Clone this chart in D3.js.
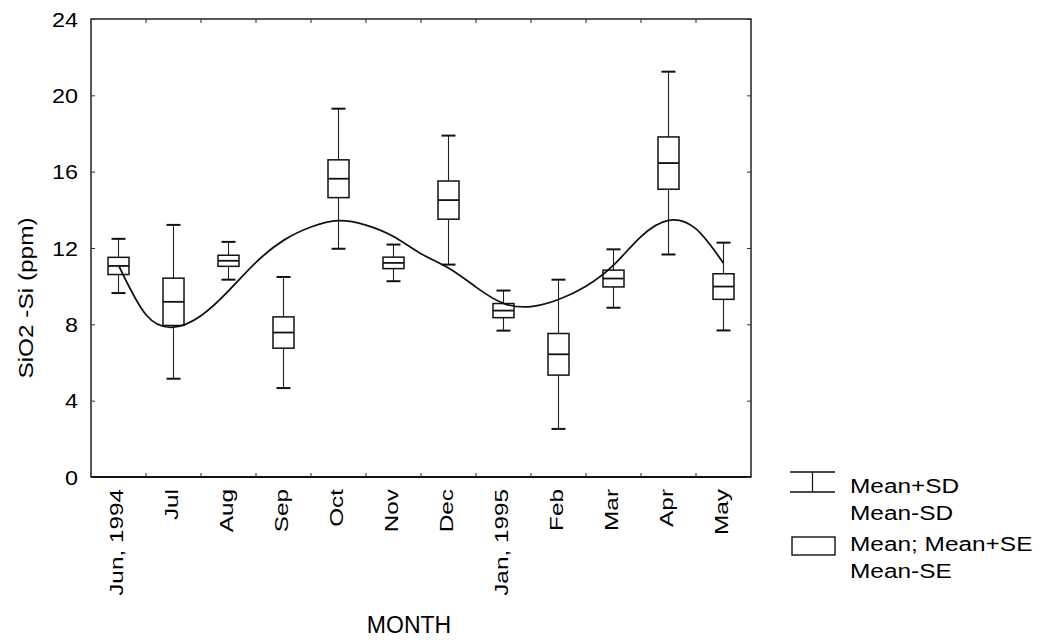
<!DOCTYPE html>
<html>
<head>
<meta charset="utf-8">
<script src="https://cdn.jsdelivr.net/npm/d3@7"></script>
<style>
  html, body { margin: 0; padding: 0; background: #fff; }
  svg { display: block; }
  text { font-family: "Liberation Sans", Arial, Helvetica, sans-serif; fill: #000; }
</style>
</head>
<body>
<svg id="chart" width="1047" height="641"></svg>
<script>
// Monthly SiO2-Si concentration, June 1994 - May 1995
const months = ["Jun, 1994", "Jul", "Aug", "Sep", "Oct", "Nov", "Dec",
                "Jan, 1995", "Feb", "Mar", "Apr", "May"];
const meanValues = [11.06, 9.18, 11.33, 7.57, 15.63, 11.22, 14.51, 8.72, 6.43, 10.40, 16.45, 9.98];
const seValues   = [0.45, 1.24, 0.29, 0.82, 0.99, 0.30, 1.00, 0.37, 1.09, 0.44, 1.37, 0.67];
const sdValues   = [1.42, 4.03, 0.99, 2.91, 3.67, 0.96, 3.38, 1.05, 3.91, 1.53, 4.79, 2.30];

// Smoothed seasonal fit, sampled every half month (index 0 = Jun 1994)
const fitIndex  = [0, 0.5, 1, 1.5, 2, 2.5, 3, 3.5, 4, 4.5, 5, 5.5,
                   6, 6.5, 7, 7.5, 8, 8.5, 9, 9.5, 10, 10.5, 11];
const fitValues = [11.1, 8.5, 7.85, 8.45, 9.75, 11.25, 12.4, 13.1, 13.43, 13.2, 12.6, 11.7,
                   10.95, 9.95, 9.1, 8.93, 9.3, 10.0, 11.1, 12.6, 13.45, 13.0, 11.2];

const yTicks = [0, 4, 8, 12, 16, 20, 24];
const legendItems = [["Mean+SD", "Mean-SD"], ["Mean; Mean+SE", "Mean-SE"]];

const svg = d3.select("#chart");
const W = 1047, H = 641;
const plot = { left: 91, right: 751, top: 19, bottom: 477 };

svg.append("rect").attr("width", W).attr("height", H).attr("fill", "#fff");

const x = d3.scaleBand().domain(months).range([plot.left, plot.right]).padding(0);
const y = d3.scaleLinear().domain([0, 24]).range([plot.bottom, plot.top]);
const cx = m => x(m) + x.bandwidth() / 2;
const xFit = d3.scaleLinear().domain([0, months.length - 1])
  .range([cx(months[0]), cx(months[months.length - 1])]);

// stretch text along its baseline (the lettering is wide)
function widen(sel, k) {
  sel.each(function () {
    const L = this.getComputedTextLength();
    this.setAttribute("textLength", (L * k).toFixed(1));
    this.setAttribute("lengthAdjust", "spacingAndGlyphs");
  });
}

const rows = months.map((m, i) => ({
  m, mean: meanValues[i], se: seValues[i], sd: sdValues[i]
}));

// whiskers: mean ± SD
const capW = 14, boxW = 21;
const g = svg.append("g");
g.selectAll("line.whisker").data(rows).join("line")
  .attr("class", "whisker")
  .attr("x1", d => cx(d.m)).attr("x2", d => cx(d.m))
  .attr("y1", d => y(d.mean + d.sd)).attr("y2", d => y(d.mean - d.sd))
  .attr("stroke", "#222").attr("stroke-width", 1.1);
g.selectAll("line.capTop").data(rows).join("line")
  .attr("x1", d => cx(d.m) - capW / 2).attr("x2", d => cx(d.m) + capW / 2)
  .attr("y1", d => y(d.mean + d.sd)).attr("y2", d => y(d.mean + d.sd))
  .attr("stroke", "#111").attr("stroke-width", 2);
g.selectAll("line.capBot").data(rows).join("line")
  .attr("x1", d => cx(d.m) - capW / 2).attr("x2", d => cx(d.m) + capW / 2)
  .attr("y1", d => y(d.mean - d.sd)).attr("y2", d => y(d.mean - d.sd))
  .attr("stroke", "#111").attr("stroke-width", 2);

// boxes: mean ± SE with a line at the mean
g.selectAll("rect.box").data(rows).join("rect")
  .attr("x", d => cx(d.m) - boxW / 2)
  .attr("y", d => y(d.mean + d.se))
  .attr("width", boxW)
  .attr("height", d => y(d.mean - d.se) - y(d.mean + d.se))
  .attr("fill", "#fff").attr("stroke", "#111").attr("stroke-width", 1.5);
g.selectAll("line.meanLine").data(rows).join("line")
  .attr("x1", d => cx(d.m) - boxW / 2).attr("x2", d => cx(d.m) + boxW / 2)
  .attr("y1", d => y(d.mean)).attr("y2", d => y(d.mean))
  .attr("stroke", "#111").attr("stroke-width", 1.8);

// fitted seasonal curve
const fitPts = fitIndex.map((t, i) => [t, fitValues[i]]);
svg.append("path")
  .datum(fitPts)
  .attr("d", d3.line().x(d => xFit(d[0])).y(d => y(d[1])).curve(d3.curveNatural))
  .attr("fill", "none").attr("stroke", "#111").attr("stroke-width", 1.8);

// frame
svg.append("rect")
  .attr("x", plot.left).attr("y", plot.top)
  .attr("width", plot.right - plot.left).attr("height", plot.bottom - plot.top)
  .attr("fill", "none").attr("stroke", "#111").attr("stroke-width", 1.4);
svg.append("line")
  .attr("x1", plot.left).attr("x2", plot.right)
  .attr("y1", plot.bottom).attr("y2", plot.bottom)
  .attr("stroke", "#111").attr("stroke-width", 2.2);

// y axis
const yAxis = svg.append("g")
  .attr("transform", `translate(${plot.left},0)`)
  .call(d3.axisLeft(y).tickValues(yTicks).tickSize(-4).tickPadding(13).tickFormat(d3.format("d")));
yAxis.select(".domain").remove();
yAxis.selectAll(".tick line").attr("stroke", "#333");
yAxis.selectAll(".tick text")
  .attr("font-size", 19.5).attr("dy", "0.36em")
  .style("font-family", '"Liberation Sans", Arial, sans-serif').attr("fill", "#000")
  .call(widen, 1.2);
// right-side ticks
const yRight = svg.append("g")
  .attr("transform", `translate(${plot.right},0)`)
  .call(d3.axisRight(y).tickValues(yTicks).tickSize(-4).tickFormat(""));
yRight.select(".domain").remove();
yRight.selectAll(".tick line").attr("stroke", "#333");

// month boundary ticks, top and bottom (inward)
const bounds = months.slice(1).map(m => x(m));
svg.append("g").selectAll("line").data(bounds).join("line")
  .attr("x1", d => d).attr("x2", d => d)
  .attr("y1", plot.bottom).attr("y2", plot.bottom - 4)
  .attr("stroke", "#222").attr("stroke-width", 1);
svg.append("g").selectAll("line").data(bounds).join("line")
  .attr("x1", d => d).attr("x2", d => d)
  .attr("y1", plot.top).attr("y2", plot.top + 4)
  .attr("stroke", "#222").attr("stroke-width", 1);

// month labels, vertical
svg.append("g").selectAll("text").data(months).join("text")
  .attr("transform", d => `translate(${cx(d) - 2},${plot.bottom + 12}) rotate(-90)`)
  .attr("text-anchor", "end")
  .attr("dy", "0.35em")
  .attr("font-size", 19)
  .text(d => d)
  .call(widen, 1.28);

// axis titles
svg.append("text")
  .attr("transform", `translate(26,${(plot.top + plot.bottom) / 2 + 50}) rotate(-90)`)
  .attr("text-anchor", "middle")
  .attr("dy", "0.35em")
  .attr("font-size", 19.5)
  .text("SiO2 -Si (ppm)")
  .call(widen, 1.25);

svg.append("text")
  .attr("x", 409).attr("y", 633)
  .attr("text-anchor", "middle")
  .attr("font-size", 23)
  .text("MONTH");

// legend
const lg = svg.append("g");
// whisker symbol
lg.append("line").attr("x1", 790).attr("x2", 835).attr("y1", 472).attr("y2", 472)
  .attr("stroke", "#111").attr("stroke-width", 1.5);
lg.append("line").attr("x1", 790).attr("x2", 835).attr("y1", 492).attr("y2", 492)
  .attr("stroke", "#111").attr("stroke-width", 1.5);
lg.append("line").attr("x1", 812.5).attr("x2", 812.5).attr("y1", 472).attr("y2", 492)
  .attr("stroke", "#111").attr("stroke-width", 1.2);
// box symbol
lg.append("rect").attr("x", 792).attr("y", 537).attr("width", 43).attr("height", 18)
  .attr("fill", "#fff").attr("stroke", "#111").attr("stroke-width", 1.4);

const legendBase = [[493, 520], [551, 578]];
legendItems.forEach((pair, i) => {
  pair.forEach((t, j) => {
    lg.append("text")
      .attr("x", 850).attr("y", legendBase[i][j])
      .attr("font-size", 20)
      .text(t)
      .call(widen, 1.22);
  });
});
</script>
</body>
</html>
